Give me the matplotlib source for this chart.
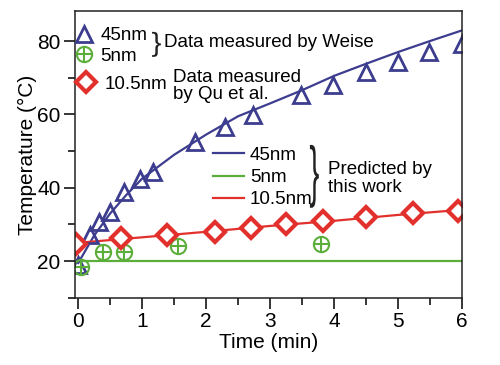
import matplotlib
matplotlib.use("Agg")
import matplotlib.pyplot as plt
import matplotlib.transforms as mtransforms
from matplotlib.ticker import MultipleLocator
from matplotlib.textpath import TextPath
from matplotlib.patches import PathPatch
from matplotlib.font_manager import FontProperties
import numpy as np

plt.rcParams['font.family'] = ['Liberation Sans', 'DejaVu Sans']

# measured data
t45 = [0, 0.18, 0.33, 0.49, 0.72, 0.96, 1.17, 1.82, 2.29, 2.73, 3.48, 3.98, 4.5, 5.0, 5.49, 6.0]
T45 = [19, 27, 30.7, 33.4, 38.9, 42.5, 44.3, 52.5, 56.6, 59.8, 65.2, 68, 71.6, 74.3, 77, 79.3]
t5 = [0.05, 0.39, 0.72, 1.56, 3.8]
T5 = [18.5, 22.5, 22.5, 24.1, 24.6]
t105 = [-0.03, 0.67, 1.39, 2.14, 2.7, 3.25, 3.82, 4.5, 5.23, 5.93]
T105 = [24.8, 26.2, 27.1, 27.9, 29.0, 30.1, 30.9, 32.1, 33.0, 33.6]

# predicted curves
tp45 = [0, 0.25, 0.5, 0.75, 1, 1.5, 2, 2.5, 3, 3.5, 4, 4.5, 5, 5.5, 6]
Tp45 = [19.5, 27, 33, 38, 42.5, 49, 54.5, 59.5, 63, 66.6, 70.5, 73.8, 77, 80, 82.9]
tp5 = [0, 6]
Tp5 = [20, 20]
tp105 = [0, 1, 2, 3, 4, 5, 6]
Tp105 = [25, 26.5, 28, 29.6, 31, 32.6, 34]

blue = '#3d3d8f'
green = '#5cae3a'
red = '#e2312c'
FS = 13.5


def brace(ax, x0, x1, y0, y1):
    # a '}' glyph stretched into the given box (axes coords)
    p = TextPath((0, 0), '}', size=1, prop=FontProperties(family='Liberation Sans'))
    ext = p.get_extents()
    t = (mtransforms.Affine2D().translate(-ext.x0, -ext.y0)
         .scale((x1 - x0) / ext.width, (y1 - y0) / ext.height).translate(x0, y0))
    ax.add_patch(PathPatch(t.transform_path(p), transform=ax.transAxes,
                           fc='#222222', ec='none', clip_on=False))


fig = plt.figure(figsize=(5, 3.65), dpi=100)
ax = fig.add_axes([0.15, 0.184, 0.774, 0.786])

lp45, = ax.plot(tp45, Tp45, color=blue, lw=1.6)
lp5, = ax.plot(tp5, Tp5, color=green, lw=1.6)
lp105, = ax.plot(tp105, Tp105, color=red, lw=1.6)

m45, = ax.plot(t45, T45, '^', ms=12, mfc='none', mec=blue, mew=2, ls='none')
m5a, = ax.plot(t5, T5, 'o', ms=11, mfc='none', mec=green, mew=1.5, ls='none')
m5b, = ax.plot(t5, T5, '+', ms=11, mec=green, mew=1.5, ls='none')
m105, = ax.plot(t105, T105, 'D', ms=10, mfc='white', mec=red, mew=3, ls='none')

ax.set_xlim(-0.05, 6.0)
ax.set_ylim(10, 88.2)
ax.xaxis.set_major_locator(MultipleLocator(1))
ax.xaxis.set_minor_locator(MultipleLocator(0.5))
ax.yaxis.set_major_locator(MultipleLocator(20))
ax.yaxis.set_minor_locator(MultipleLocator(10))
ax.tick_params(which='both', direction='out', width=1.1, labelsize=15, top=False, right=False)
ax.tick_params(which='major', length=8, pad=2.5)
ax.tick_params(which='minor', length=5)
for s in ax.spines.values():
    s.set_linewidth(1.1)
    s.set_color('#222222')

ax.set_xlabel('Time (min)', fontsize=15, labelpad=1)
ax.set_ylabel('Temperature (°C)', fontsize=15, labelpad=0)

leg1 = ax.legend([m45, (m5a, m5b)], ['45nm', '5nm'],
                 loc='upper left', bbox_to_anchor=(0.0, 0.944), frameon=False,
                 fontsize=FS, handlelength=1.0, handletextpad=0.35,
                 labelspacing=0.2, borderpad=0, borderaxespad=0)
ax.add_artist(leg1)
leg2 = ax.legend([m105], ['10.5nm'],
                 loc='upper left', bbox_to_anchor=(0.005, 0.774), frameon=False,
                 fontsize=FS, handlelength=1.0, handletextpad=0.5,
                 borderpad=0, borderaxespad=0)
ax.add_artist(leg2)
ax.legend([lp45, lp5, lp105], ['45nm', '5nm', '10.5nm'],
          loc='upper left', bbox_to_anchor=(0.357, 0.526), frameon=False,
          fontsize=FS, handlelength=1.65, handletextpad=0.3,
          labelspacing=0.27, borderpad=0, borderaxespad=0)

tr = ax.transAxes
brace(ax, 0.199, 0.222, 0.840, 0.927)
ax.text(0.23, 0.889, 'Data measured by Weise', transform=tr, fontsize=FS, va='center')
ax.text(0.253, 0.739, 'Data measured\nby Qu et al.', transform=tr, fontsize=FS,
        va='center', linespacing=0.95)
brace(ax, 0.607, 0.630, 0.314, 0.533)
ax.text(0.654, 0.415, 'Predicted by\nthis work', transform=tr, fontsize=FS,
        va='center', linespacing=1.1)

fig.savefig('out.png', dpi=100)
